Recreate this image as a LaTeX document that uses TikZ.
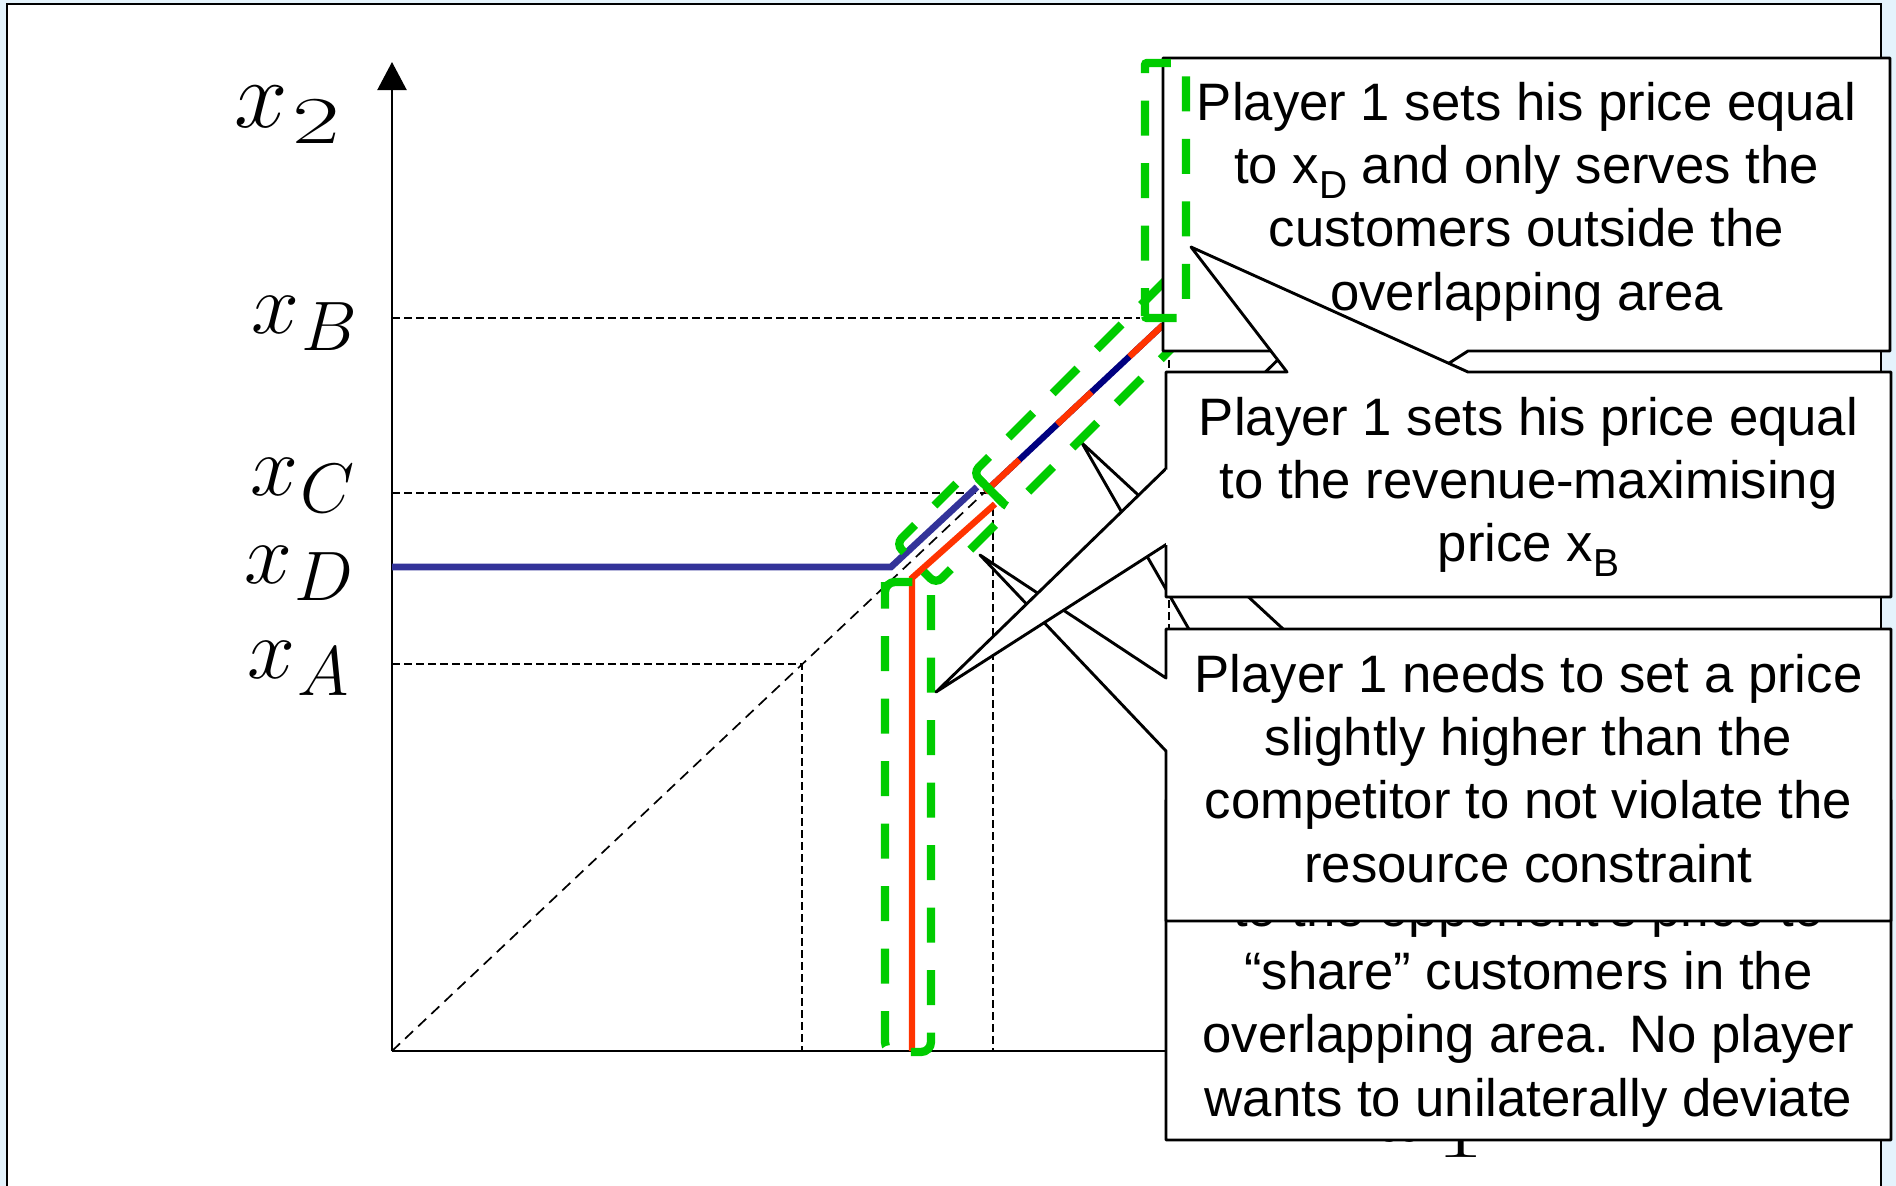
\RequirePackage{fix-cm}
\documentclass[tikz,border=0pt]{standalone}
\usepackage[no-math]{fontspec}
\setmainfont{Liberation Sans}
\usepackage{graphicx}
\usetikzlibrary{arrows.meta}

\definecolor{slidebg}{RGB}{228,243,252}
\definecolor{respred}{RGB}{255,51,0}
\definecolor{respblue}{RGB}{51,51,153}
\definecolor{respnavy}{RGB}{0,0,128}
\definecolor{hlgreen}{RGB}{0,204,0}

% subscript used inside the callout texts
\newcommand\txtsub[1]{\raisebox{-15pt}{\fontsize{39}{39}\selectfont #1}}
% price levels on the vertical axis
\newcommand\axislabel[1]{{\fontsize{86}{86}\selectfont$x$}\kern1.5pt\raisebox{-17pt}{\fontsize{70}{70}\selectfont$#1$}}
% axis names
\newcommand\axisname[1]{{\fontsize{96}{96}\selectfont$x$}\kern5pt\raisebox{-16pt}{\scalebox{1.55}[1]{\fontsize{67}{67}\selectfont$#1$}}}

\begin{document}
\begin{tikzpicture}[x=1pt, y=-1pt,
  guide/.style={line width=1.9pt, dash pattern=on 7.5pt off 4.5pt},
  diag/.style={line width=1.7pt, dash pattern=on 11pt off 7pt},
  axisline/.style={line width=2.2pt},
  resp/.style={line width=6.3pt},
  hl/.style={draw=hlgreen, line width=8.3pt, dash pattern=on 35pt off 27.5pt},
  callout/.style={draw=black, fill=white, line width=2.9pt, line join=round},
  calltext/.style={font=\fontsize{52.7}{63.3}\selectfont, align=center, inner sep=0pt, anchor=north},
  axlab/.style={anchor=base west, inner sep=0pt},
]
\useasboundingbox (0,0) rectangle (1896,1186);

% slide background and frame
\fill[slidebg] (0,0) rectangle (1896,1186);
\draw[fill=white, line width=2.8pt] (7,4) rectangle (1881,1200);

% key points of the chart
\coordinate (O) at (392,1051);
\coordinate (ytop) at (392,62);
\coordinate (xright) at (1520,1051);
\coordinate (Bpt) at (1169,318);
\coordinate (Cpt) at (993,493);
\coordinate (Apt) at (802,664);

% guide lines
\draw[guide] (O |- Bpt) -- (1140,318);
\draw[guide] (1169,324) -- (Bpt |- O);
\draw[guide] (O |- Cpt) -- (987,493);
\draw[guide] (993,508) -- (Cpt |- O);
\draw[guide] (O |- Apt) -- (Apt) -- (Apt |- O);
\draw[diag] (O) -- (1163,324);

% axes
\draw[axisline, -{Triangle[length=28pt,width=29pt]}] (O) -- (ytop);
\draw[axisline, -{Triangle[length=28pt,width=29pt]}] (O) -- (xright);

% axis labels
\node[axlab] (labx2) at (234,127) {\axisname{2}};
\node[axlab] (labx1) at (1378,1141.5) {\axisname{1}};
\node[axlab] (labB) at (251.5,333) {\axislabel{B}};
\node[axlab] (labC) at (250.5,495) {\axislabel{C}};
\node[axlab] (labD) at (244.5,583) {\axislabel{D}};
\node[axlab] (labA) at (247.5,678) {\axislabel{A}};

% best responses
\draw[resp, respblue, line width=6.7pt] (392,567) -- (891,567) -- (977,487);
\draw[resp, respred] (912,1051) -- (912,578) -- (995,504);
\draw[resp, respnavy] (985,492) -- (1163,325);
\draw[resp, respred, dash pattern=on 47pt off 52pt] (985,492) -- (1163,325);

% callout: sharing customers
\draw[callout] (1166,800) -- (1287,800) -- (1082,443) -- (1468,800) -- (1891,800) -- (1891,1140) -- (1166,1140) -- cycle;
\node[calltext] (note4) at (1528.5,886) {\rule{0pt}{40pt}to the opponent’s price to\\“share” customers in the\\overlapping area. No player\\wants to unilaterally deviate};

% callout: resource constraint
\draw[callout] (1166,629) -- (1891,629) -- (1891,921) -- (1166,921) -- (1166,751) -- (980,555) -- (1166,678) -- cycle;
\node[calltext] (note3) at (1528.5,652) {\rule{0pt}{40pt}Player 1 needs to set a price\\slightly higher than the\\competitor to not violate the\\resource constraint};

% highlighted parts of the response curve
\draw[hl, rounded corners=10pt, dash phase=54.6pt] (885,592) -- (885,582) -- (931,582) -- (931,1052) -- (885,1052) -- cycle;
\draw[hl, rounded corners=8pt, dash phase=10pt] (933,507) -- (970,470) -- (1010,510) -- (936,584) -- (896,544) -- cycle;
\draw[hl, rounded corners=8pt, dash phase=22pt] (991.5,491.5) -- (1010,510) -- (1210,310) -- (1173,273) -- (973,473) -- cycle;

% callout: price equal to x_D
\draw[callout] (1163,58) -- (1890,58) -- (1890,351) -- (1468,351) -- (936,692) -- (1287,351) -- (1163,351) -- cycle;
\node[calltext] (note1) at (1526.5,80) {\rule{0pt}{40pt}Player 1 sets his price equal\\to x\txtsub{D} and only serves the\\customers outside the\\overlapping area};

% callout: revenue-maximising price
\fill[white] (1166,372) -- (1287,372) -- (1191,247) -- (1468,372) -- (1891,372) -- (1891,597) -- (1166,597) -- cycle;
\draw[line width=2.9pt, line join=round] (1166,469.5) -- (1166,372) -- (1287,372) -- (1191,247) -- (1468,372) -- (1891,372) -- (1891,597) -- (1166,597) -- (1166,545);
\node[calltext] (note2) at (1528.5,395) {\rule{0pt}{40pt}Player 1 sets his price equal\\to the revenue-maximising\\price x\txtsub{B}};

% highlighted vertical part at x_B
\draw[hl, rounded corners=2pt, dash phase=7pt] (1145,318) -- (1145,63) -- (1186,63) -- (1186,318) -- cycle;
\end{tikzpicture}
\end{document}
